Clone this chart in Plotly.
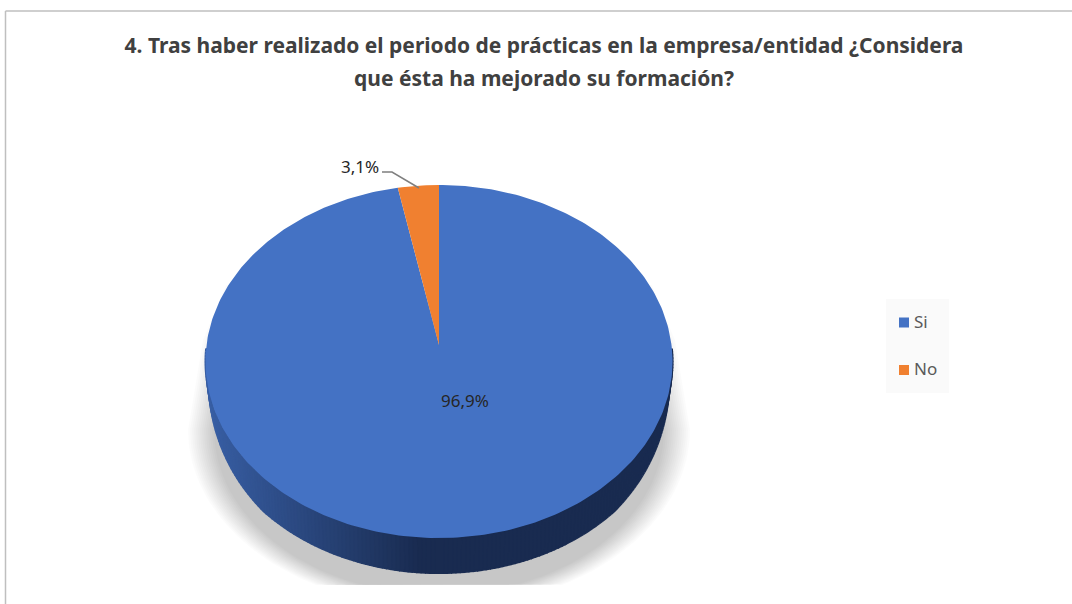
import numpy as np
import plotly.graph_objects as go

# ---- data ----
categories = ["Si", "No"]
percent_values = [96.9, 3.1]
title_lines = [
    "4. Tras haber realizado el periodo de prácticas en la empresa/entidad ¿Considera",
    "que ésta ha mejorado su formación?",
]

# ---- style / geometry ----
FONT = "Noto Sans"
colors = ["#4472C4", "#F08030"]
CX, CY, A, B, K = 439.0, 345.0, 232.5, 175.0, 0.0935
DEPTH = 35.0
W, H = 1072, 604


def project(theta):
    u, v = np.sin(theta), np.cos(theta)
    s = 1 + K * v
    return CX + A * u / s, CY - B * v / s


def label_text(v):
    return f"{v:.1f}".replace(".", ",") + "%"


fig = go.Figure()


def poly(x, y, color, line=None, width=0):
    fig.add_trace(go.Scatter(
        x=list(x), y=list(y), mode="lines", fill="toself", fillcolor=color,
        line=dict(color=line or "rgba(0,0,0,0)", width=width),
        hoverinfo="skip", showlegend=False))


# soft drop shadow behind the pie
n_layers = 14
for i in range(n_layers):
    inset = i * 2.0
    t = np.linspace(np.pi, 0, 90)
    rx, ry = 251 - inset, 178 - inset * 0.5
    sx = CX + rx * np.cos(t)
    sy = np.minimum(430 + ry * np.sin(t), 585)
    left_x = np.array([226.0, 203.0]) + inset * 0.8
    left_y = np.array([285.0, 340.0]) + inset
    right_x = 2 * CX - left_x[::-1]
    xs = np.concatenate([left_x, sx, right_x])
    ys = np.concatenate([left_y, sy, left_y[::-1]])
    poly(xs, ys, "rgba(0,0,0,0.017)")

# side wall, drawn as narrow strips shaded from the left; thickness tapers
# to nothing where the rim turns away at both ends
theta_wall = np.linspace(np.pi / 2 + 0.02, 3 * np.pi / 2 - 0.02, 181)
wx, wy = project(theta_wall)
taper = np.sqrt(np.clip(-np.cos(theta_wall) / 0.7, 0, 1))
lx = CX + (wx - CX) * 0.988
ly = wy + DEPTH * taper
light, dark = np.array([0x38, 0x5E, 0xA3]), np.array([0x19, 0x2B, 0x50])
for i in range(len(theta_wall) - 1):
    mid = (wx[i] + wx[i + 1]) / 2
    f = np.clip((mid - 210) / (420 - 210), 0, 1)
    r, g, b = np.round(light + (dark - light) * f).astype(int)
    c = f"rgb({r},{g},{b})"
    poly([wx[i], wx[i + 1], lx[i + 1], lx[i]],
         [wy[i], wy[i + 1], ly[i + 1], ly[i]], c, c, 2)

# top face: one wedge per category, clockwise from 12 o'clock
fractions = np.array(percent_values) / sum(percent_values)
edges = np.concatenate([[0], np.cumsum(fractions)]) * 2 * np.pi
for i, cat in enumerate(categories):
    th = np.linspace(edges[i], edges[i + 1], max(4, int(fractions[i] * 360)))
    px, py = project(th)
    fig.add_trace(go.Scatter(
        x=np.concatenate([[CX], px, [CX]]), y=np.concatenate([[CY], py, [CY]]),
        mode="lines", fill="toself", fillcolor=colors[i],
        line=dict(color="rgba(0,0,0,0)", width=0), name=cat,
        hovertemplate=f"{cat}: {label_text(percent_values[i])}<extra></extra>",
        showlegend=False))

# leader line of the small slice
fig.add_trace(go.Scatter(x=[382, 392, 419], y=[172, 172, 188], mode="lines",
                         line=dict(color="#7F7F7F", width=1.5),
                         hoverinfo="skip", showlegend=False))

# data labels
fig.add_trace(go.Scatter(
    x=[465, 360], y=[403, 169], mode="text",
    text=[label_text(v) for v in percent_values],
    textposition="middle center",
    textfont=dict(family=FONT, size=17, color="#262626"),
    hoverinfo="skip", showlegend=False))

# legend
fig.add_shape(type="rect", x0=886, x1=949, y0=299, y1=393, xref="x", yref="y",
              fillcolor="#FAFAFA", line_width=0, layer="below")
fig.add_trace(go.Scatter(
    x=[904, 904], y=[322.5, 370], mode="markers",
    marker=dict(symbol="square", size=10, color=colors, line_width=0),
    hoverinfo="skip", showlegend=False))
fig.add_trace(go.Scatter(
    x=[914, 914], y=[324, 371], mode="text",
    text=categories, textposition="middle right",
    textfont=dict(family=FONT, size=17, color="#595959"),
    hoverinfo="skip", showlegend=False))

# chart frame (left and top edges visible)
fig.add_shape(type="line", x0=5.5, x1=5.5, y0=11, y1=H, xref="x", yref="y",
              line=dict(color="#BFBFBF", width=1.5))
fig.add_shape(type="line", x0=5.5, x1=W, y0=11, y1=11, xref="x", yref="y",
              line=dict(color="#BFBFBF", width=1.5))

title_html = "<br>".join(f'<span style="font-size:21px">{t}</span>' for t in title_lines)
fig.update_layout(
    width=W, height=H, margin=dict(l=0, r=0, t=0, b=0),
    paper_bgcolor="white", plot_bgcolor="white", showlegend=False,
    title=dict(text=title_html, x=544 / W, xanchor="center", xref="paper",
               y=1 - 52.5 / H, yanchor="middle", yref="paper",
               font=dict(family=FONT, size=26, color="#404040", weight=700)),
    xaxis=dict(range=[0, W], visible=False, fixedrange=True, domain=[0, 1]),
    yaxis=dict(range=[H, 0], visible=False, fixedrange=True, domain=[0, 1]),
)
fig.write_html("out.html", config={"displayModeBar": False},
               post_script="document.body.style.margin='0';document.body.style.overflow='hidden';")
